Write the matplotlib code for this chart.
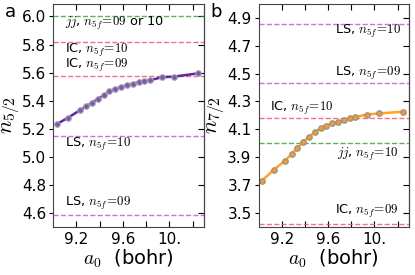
import matplotlib
matplotlib.use("Agg")
import matplotlib.pyplot as plt

plt.rcParams["mathtext.fontset"] = "cm"

# lattice constant (bohr)
a0 = [9.03, 9.13, 9.23, 9.285, 9.335, 9.385, 9.435, 9.485, 9.535, 9.585,
      9.635, 9.685, 9.735, 9.785, 9.835, 9.935, 10.04, 10.25]

n52 = [5.232, 5.279, 5.331, 5.359, 5.385, 5.413, 5.437, 5.468, 5.484, 5.498,
       5.510, 5.522, 5.531, 5.541, 5.545, 5.567, 5.571, 5.595]
n72 = [3.732, 3.809, 3.876, 3.922, 3.967, 4.008, 4.046, 4.078, 4.109, 4.127,
       4.144, 4.149, 4.168, 4.178, 4.188, 4.206, 4.214, 4.226]

# reference levels
ref52 = {"jj": 6.0, "IC10": 5.82, "IC09": 5.576, "LS10": 5.15, "LS09": 4.584}
ref72 = {"LS10": 4.859, "LS09": 4.43, "IC10": 4.18, "jj10": 4.0, "IC09": 3.422}

xticks = [9.2, 9.4, 9.6, 9.8, 10.0, 10.2]
xticklabels = ["9.2", "", "9.6", "", "10.", ""]

C_GREEN = "#3c9a3c"
C_RED = "#e8506c"
C_PURP = "#b458c4"

fig = plt.figure(figsize=(4.15, 2.75), dpi=100)
ax1 = fig.add_axes([0.128, 0.175, 0.364, 0.811])
ax2 = fig.add_axes([0.623, 0.175, 0.363, 0.811])


def style(ax, yticks):
    ax.set_xlim(9.0, 10.3)
    ax.set_xticks(xticks)
    ax.set_xticklabels(xticklabels)
    ax.set_yticks(yticks)
    ax.tick_params(axis="x", direction="in", top=True, length=4, labelsize=11)
    ax.tick_params(axis="y", direction="out", right=False, length=3, labelsize=11, pad=2)
    sec = ax.secondary_yaxis("right")
    sec.set_yticks(yticks)
    sec.tick_params(direction="in", length=4, labelright=False)
    ax.set_xlabel("$a_0$  (bohr)", fontsize=14, labelpad=1)
    for s in ax.spines.values():
        s.set_color("#444444")


# panel a
style(ax1, [4.6, 4.8, 5.0, 5.2, 5.4, 5.6, 5.8, 6.0])
ax1.set_ylim(4.5, 6.09)
ax1.axhline(ref52["jj"], color=C_GREEN, ls="--", lw=1, alpha=0.8)
ax1.axhline(ref52["IC10"], color=C_RED, ls="--", lw=1, alpha=0.8)
ax1.axhline(ref52["IC09"], color=C_RED, ls="--", lw=1, alpha=0.8)
ax1.axhline(ref52["LS10"], color=C_PURP, ls="--", lw=1, alpha=0.8)
ax1.axhline(ref52["LS09"], color=C_PURP, ls="--", lw=1, alpha=0.8)
ax1.plot(a0, n52, "-o", color="#5a2a9c", lw=1.8, ms=4,
         mfc="#7a5aa8", mec="#a8a0b4", mew=0.8)
fs = 9.3
ax1.text(9.1, 5.95, r"$jj$, $n_{5f}\!=\!09$ or 10", fontsize=fs, va="center")
ax1.text(9.1, 5.76, r"IC, $n_{5f}\!=\!10$", fontsize=fs, va="center")
ax1.text(9.1, 5.65, r"IC, $n_{5f}\!=\!09$", fontsize=fs, va="center")
ax1.text(9.1, 5.09, r"LS, $n_{5f}\!=\!10$", fontsize=fs, va="center")
ax1.text(9.1, 4.665, r"LS, $n_{5f}\!=\!09$", fontsize=fs, va="center")
ax1.set_ylabel("$n_{5/2}$", fontsize=16, labelpad=0)
fig.text(0.012, 0.955, "a", fontsize=13, va="center")

# panel b
style(ax2, [3.5, 3.7, 3.9, 4.1, 4.3, 4.5, 4.7, 4.9])
ax2.set_ylim(3.4, 5.0)
ax2.axhline(ref72["LS10"], color=C_PURP, ls="--", lw=1, alpha=0.8)
ax2.axhline(ref72["LS09"], color=C_PURP, ls="--", lw=1, alpha=0.8)
ax2.axhline(ref72["IC10"], color=C_RED, ls="--", lw=1, alpha=0.8)
ax2.axhline(ref72["jj10"], color=C_GREEN, ls="--", lw=1, alpha=0.8)
ax2.axhline(ref72["IC09"], color=C_RED, ls="--", lw=1, alpha=0.8)
ax2.plot(a0, n72, "-o", color="#ffa32a", lw=1.8, ms=4,
         mfc="#f29a30", mec="#909090", mew=0.8)
ax2.text(10.23, 4.80, r"LS, $n_{5f}\!=\!10$", fontsize=fs, va="center", ha="right")
ax2.text(10.23, 4.50, r"LS, $n_{5f}\!=\!09$", fontsize=fs, va="center", ha="right")
ax2.text(9.1, 4.247, r"IC, $n_{5f}\!=\!10$", fontsize=fs, va="center")
ax2.text(10.21, 3.917, r"$jj$, $n_{5f}\!=\!10$", fontsize=fs, va="center", ha="right")
ax2.text(10.21, 3.509, r"IC, $n_{5f}\!=\!09$", fontsize=fs, va="center", ha="right")
ax2.set_ylabel("$n_{7/2}$", fontsize=16, labelpad=0)
fig.text(0.508, 0.955, "b", fontsize=13, va="center")

fig.savefig("out.png", dpi=100)
